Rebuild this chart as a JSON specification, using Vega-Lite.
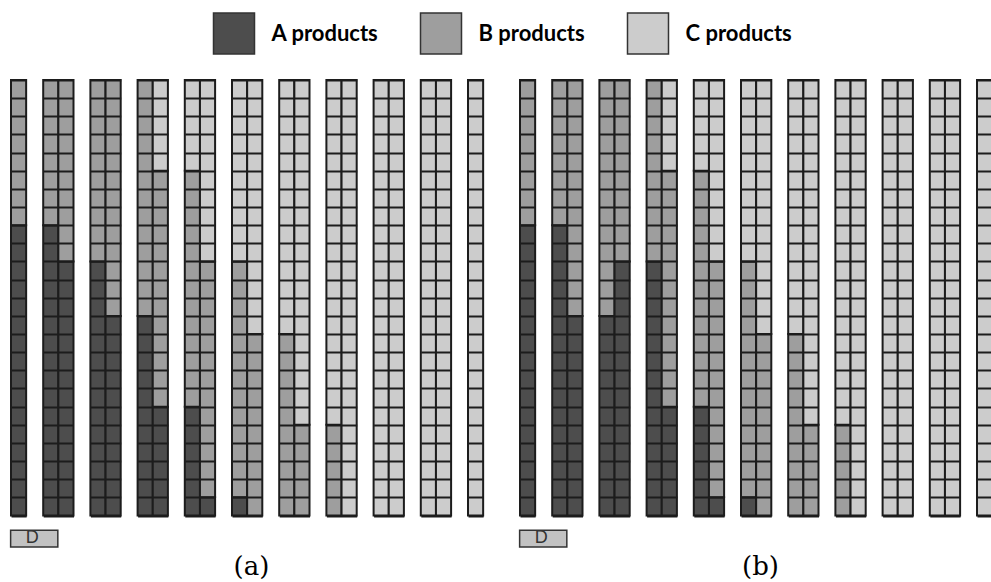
{
  "$schema": "https://vega.github.io/schema/vega-lite/v6.json",
  "padding": {"left": 9, "top": 12, "right": 0, "bottom": 0},
  "background": "white",
  "datasets": {
    "cells": [
      {"p":"a","c":0,"s":1,"k":"A products","n":16},{"p":"a","c":0,"s":1,"k":"B products","n":8},
      {"p":"a","c":1,"s":0,"k":"A products","n":16},{"p":"a","c":1,"s":0,"k":"B products","n":8},
      {"p":"a","c":1,"s":1,"k":"A products","n":14},{"p":"a","c":1,"s":1,"k":"B products","n":10},
      {"p":"a","c":2,"s":0,"k":"A products","n":14},{"p":"a","c":2,"s":0,"k":"B products","n":10},
      {"p":"a","c":2,"s":1,"k":"A products","n":11},{"p":"a","c":2,"s":1,"k":"B products","n":13},
      {"p":"a","c":3,"s":0,"k":"A products","n":11},{"p":"a","c":3,"s":0,"k":"B products","n":13},
      {"p":"a","c":3,"s":1,"k":"A products","n":6},{"p":"a","c":3,"s":1,"k":"B products","n":13},{"p":"a","c":3,"s":1,"k":"C products","n":5},
      {"p":"a","c":4,"s":0,"k":"A products","n":6},{"p":"a","c":4,"s":0,"k":"B products","n":13},{"p":"a","c":4,"s":0,"k":"C products","n":5},
      {"p":"a","c":4,"s":1,"k":"A products","n":1},{"p":"a","c":4,"s":1,"k":"B products","n":13},{"p":"a","c":4,"s":1,"k":"C products","n":10},
      {"p":"a","c":5,"s":0,"k":"A products","n":1},{"p":"a","c":5,"s":0,"k":"B products","n":13},{"p":"a","c":5,"s":0,"k":"C products","n":10},
      {"p":"a","c":5,"s":1,"k":"B products","n":10},{"p":"a","c":5,"s":1,"k":"C products","n":14},
      {"p":"a","c":6,"s":0,"k":"B products","n":10},{"p":"a","c":6,"s":0,"k":"C products","n":14},
      {"p":"a","c":6,"s":1,"k":"B products","n":5},{"p":"a","c":6,"s":1,"k":"C products","n":19},
      {"p":"a","c":7,"s":0,"k":"B products","n":5},{"p":"a","c":7,"s":0,"k":"C products","n":19},
      {"p":"a","c":7,"s":1,"k":"C products","n":24},
      {"p":"a","c":8,"s":0,"k":"C products","n":24},{"p":"a","c":8,"s":1,"k":"C products","n":24},
      {"p":"a","c":9,"s":0,"k":"C products","n":24},{"p":"a","c":9,"s":1,"k":"C products","n":24},
      {"p":"a","c":10,"s":0,"k":"C products","n":24},
      {"p":"b","c":0,"s":1,"k":"A products","n":16},{"p":"b","c":0,"s":1,"k":"B products","n":8},
      {"p":"b","c":1,"s":0,"k":"A products","n":16},{"p":"b","c":1,"s":0,"k":"B products","n":8},
      {"p":"b","c":1,"s":1,"k":"A products","n":11},{"p":"b","c":1,"s":1,"k":"B products","n":13},
      {"p":"b","c":2,"s":0,"k":"A products","n":11},{"p":"b","c":2,"s":0,"k":"B products","n":13},
      {"p":"b","c":2,"s":1,"k":"A products","n":14},{"p":"b","c":2,"s":1,"k":"B products","n":10},
      {"p":"b","c":3,"s":0,"k":"A products","n":14},{"p":"b","c":3,"s":0,"k":"B products","n":10},
      {"p":"b","c":3,"s":1,"k":"A products","n":6},{"p":"b","c":3,"s":1,"k":"B products","n":13},{"p":"b","c":3,"s":1,"k":"C products","n":5},
      {"p":"b","c":4,"s":0,"k":"A products","n":6},{"p":"b","c":4,"s":0,"k":"B products","n":13},{"p":"b","c":4,"s":0,"k":"C products","n":5},
      {"p":"b","c":4,"s":1,"k":"A products","n":1},{"p":"b","c":4,"s":1,"k":"B products","n":13},{"p":"b","c":4,"s":1,"k":"C products","n":10},
      {"p":"b","c":5,"s":0,"k":"A products","n":1},{"p":"b","c":5,"s":0,"k":"B products","n":13},{"p":"b","c":5,"s":0,"k":"C products","n":10},
      {"p":"b","c":5,"s":1,"k":"B products","n":10},{"p":"b","c":5,"s":1,"k":"C products","n":14},
      {"p":"b","c":6,"s":0,"k":"B products","n":10},{"p":"b","c":6,"s":0,"k":"C products","n":14},
      {"p":"b","c":6,"s":1,"k":"B products","n":5},{"p":"b","c":6,"s":1,"k":"C products","n":19},
      {"p":"b","c":7,"s":0,"k":"B products","n":5},{"p":"b","c":7,"s":0,"k":"C products","n":19},
      {"p":"b","c":7,"s":1,"k":"C products","n":24},
      {"p":"b","c":8,"s":0,"k":"C products","n":24},{"p":"b","c":8,"s":1,"k":"C products","n":24},
      {"p":"b","c":9,"s":0,"k":"C products","n":24},{"p":"b","c":9,"s":1,"k":"C products","n":24},
      {"p":"b","c":10,"s":0,"k":"C products","n":24}
    ]
  },
  "data": {"name": "cells"},
  "spacing": 33,
  "hconcat": [
    {
      "transform": [{"filter": "datum.p == 'a'"}],
      "title": {"text": "(a)", "orient": "bottom", "anchor": "middle", "font": "DejaVu Serif", "fontSize": 26, "fontWeight": "normal", "color": "black", "offset": 6, "dx": 4.5},
      "facet": {"column": {"field": "c", "type": "ordinal", "header": {"labels": false, "title": null, "labelPadding": 0, "titlePadding": 0}}},
      "spacing": {"column": 16.2},
      "align": "none",
      "bounds": "flush",
      "resolve": {"scale": {"x": "independent"}},
      "spec": {
        "width": {"step": 15.15},
        "height": 435.5,
        "layer": [
          {
            "mark": {"type": "bar", "stroke": "#1c1c1c", "strokeWidth": 2, "width": {"band": 1}},
            "encoding": {
              "x": {"field": "s", "type": "ordinal", "axis": null, "scale": {"paddingInner": 0, "paddingOuter": 0}},
              "y": {"field": "n", "type": "quantitative", "stack": "zero", "scale": {"domain": [0, 24], "nice": false},
                    "axis": {"values": [0,1,2,3,4,5,6,7,8,9,10,11,12,13,14,15,16,17,18,19,20,21,22,23,24], "tickCount": 30, "grid": true, "gridColor": "#1c1c1c", "gridWidth": 2, "gridOpacity": 1, "labels": false, "ticks": false, "domain": false, "title": null, "zindex": 1}},
              "color": {"field": "k", "type": "nominal", "scale": {"domain": ["A products", "B products", "C products"], "range": ["#4d4d4d", "#9e9e9e", "#cccccc"]},
                        "legend": {"orient": "none", "legendX": 201.5, "legendY": -68, "direction": "horizontal", "title": null, "symbolType": "square", "symbolSize": 1681, "symbolStrokeColor": "#333333", "symbolStrokeWidth": 1.5, "symbolOpacity": 1, "labelFont": "Lato", "labelFontWeight": "bold", "labelFontSize": 22, "labelColor": "black", "labelOffset": 16, "columnPadding": 39, "padding": 0, "labelLimit": 400}},
              "order": {"field": "k", "sort": "ascending"}
            }
          },
          {
            "transform": [{"filter": "datum.c == 0 && datum.k == 'A products'"}],
            "mark": {"type": "rect", "fill": "#c2c2c2", "stroke": "#333333", "strokeWidth": 1.5, "width": 47.2, "xOffset": 15.65},
            "encoding": {
              "x": {"field": "s", "type": "ordinal"},
              "y": {"datum": -0.81},
              "y2": {"datum": -1.74}
            }
          },
          {
            "transform": [{"filter": "datum.c == 0 && datum.k == 'A products'"}],
            "mark": {"type": "text", "text": "D", "font": "Liberation Sans", "fontSize": 18, "color": "#333333", "baseline": "alphabetic", "align": "center", "xOffset": 13.6},
            "encoding": {
              "x": {"field": "s", "type": "ordinal"},
              "y": {"datum": -1.54}
            }
          }
        ]
      }
    },
    {
      "transform": [{"filter": "datum.p == 'b'"}],
      "title": {"text": "(b)", "orient": "bottom", "anchor": "middle", "font": "DejaVu Serif", "fontSize": 26, "fontWeight": "normal", "color": "black", "offset": 6, "dx": 4.5},
      "facet": {"column": {"field": "c", "type": "ordinal", "header": {"labels": false, "title": null, "labelPadding": 0, "titlePadding": 0}}},
      "spacing": {"column": 16.2},
      "align": "none",
      "bounds": "flush",
      "resolve": {"scale": {"x": "independent"}},
      "spec": {
        "width": {"step": 15.15},
        "height": 435.5,
        "layer": [
          {
            "mark": {"type": "bar", "stroke": "#1c1c1c", "strokeWidth": 2, "width": {"band": 1}},
            "encoding": {
              "x": {"field": "s", "type": "ordinal", "axis": null, "scale": {"paddingInner": 0, "paddingOuter": 0}},
              "y": {"field": "n", "type": "quantitative", "stack": "zero", "scale": {"domain": [0, 24], "nice": false},
                    "axis": {"values": [0,1,2,3,4,5,6,7,8,9,10,11,12,13,14,15,16,17,18,19,20,21,22,23,24], "tickCount": 30, "grid": true, "gridColor": "#1c1c1c", "gridWidth": 2, "gridOpacity": 1, "labels": false, "ticks": false, "domain": false, "title": null, "zindex": 1}},
              "color": {"field": "k", "type": "nominal", "scale": {"domain": ["A products", "B products", "C products"], "range": ["#4d4d4d", "#9e9e9e", "#cccccc"]},
                        "legend": {"orient": "none", "legendX": 201.5, "legendY": -68, "direction": "horizontal", "title": null, "symbolType": "square", "symbolSize": 1681, "symbolStrokeColor": "#333333", "symbolStrokeWidth": 1.5, "symbolOpacity": 1, "labelFont": "Lato", "labelFontWeight": "bold", "labelFontSize": 22, "labelColor": "black", "labelOffset": 16, "columnPadding": 39, "padding": 0, "labelLimit": 400}},
              "order": {"field": "k", "sort": "ascending"}
            }
          },
          {
            "transform": [{"filter": "datum.c == 0 && datum.k == 'A products'"}],
            "mark": {"type": "rect", "fill": "#c2c2c2", "stroke": "#333333", "strokeWidth": 1.5, "width": 47.2, "xOffset": 15.65},
            "encoding": {
              "x": {"field": "s", "type": "ordinal"},
              "y": {"datum": -0.81},
              "y2": {"datum": -1.74}
            }
          },
          {
            "transform": [{"filter": "datum.c == 0 && datum.k == 'A products'"}],
            "mark": {"type": "text", "text": "D", "font": "Liberation Sans", "fontSize": 18, "color": "#333333", "baseline": "alphabetic", "align": "center", "xOffset": 13.6},
            "encoding": {
              "x": {"field": "s", "type": "ordinal"},
              "y": {"datum": -1.54}
            }
          }
        ]
      }
    }
  ],
  "config": {"view": {"stroke": null}}
}
